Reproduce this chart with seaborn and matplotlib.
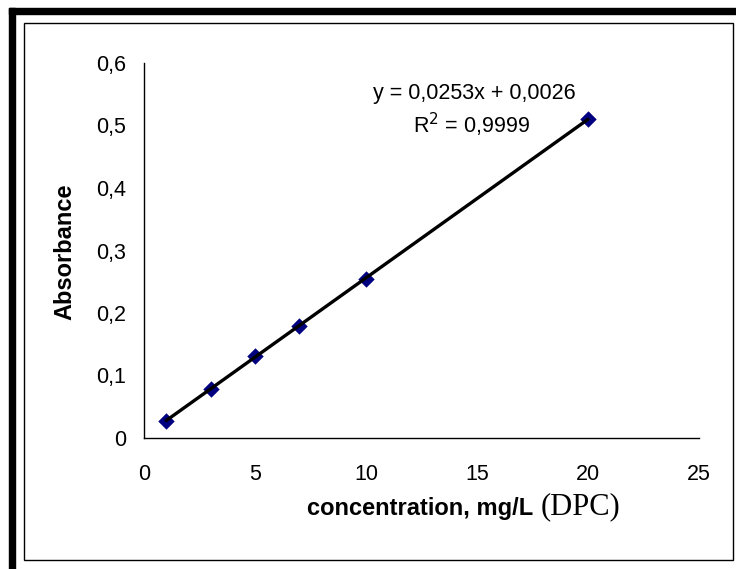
import matplotlib
matplotlib.use("Agg")
import matplotlib.pyplot as plt
import matplotlib.ticker as mticker
from matplotlib.patches import Rectangle
import pandas as pd
import seaborn as sns

# calibration data (DPC method)
concentration = [1, 3, 5, 7, 10, 20]
absorbance = [0.027, 0.078, 0.132, 0.180, 0.255, 0.510]
x_ticks = [0, 5, 10, 15, 20, 25]
y_ticks = [0, 0.1, 0.2, 0.3, 0.4, 0.5, 0.6]
equation = "y = 0,0253x + 0,0026"
r_squared = "R$^2$ = 0,9999"

df = pd.DataFrame({"concentration": concentration, "absorbance": absorbance})

sns.set_style("white")
plt.rcParams["font.family"] = ["Liberation Sans", "DejaVu Sans"]
plt.rcParams["text.color"] = "black"
plt.rcParams["axes.labelcolor"] = "black"

W, H = 736, 569
fig = plt.figure(figsize=(W / 100, H / 100), dpi=100)
ax = fig.add_axes([144 / W, 1 - 438 / H, 555 / W, 375 / H])

sns.regplot(data=df, x="concentration", y="absorbance", ax=ax, ci=None, truncate=True,
            marker="D", scatter_kws={"s": 70, "color": "#000080", "alpha": 1, "linewidths": 0, "zorder": 2},
            line_kws={"color": "black", "lw": 2.4, "zorder": 3})

ax.set_xlim(0, 25)
ax.set_ylim(0, 0.6)
ax.set_xticks(x_ticks)
ax.set_yticks(y_ticks)
ax.yaxis.set_major_formatter(mticker.FuncFormatter(lambda v, p: "0" if v == 0 else f"{v:.1f}".replace(".", ",")))
ax.tick_params(direction="out", length=5, width=1, colors="black", labelsize=15.5)
ax.tick_params(axis="y", pad=8)
ax.tick_params(axis="x", pad=14)
sns.despine(ax=ax)
for s in ["left", "bottom"]:
    ax.spines[s].set_color("black")
    ax.spines[s].set_linewidth(1)

ax.set_xlabel("")
ax.set_ylabel("")
fig.text(65 / W, 1 - 252 / H, "Absorbance", fontsize=17, fontweight="bold",
         rotation=90, ha="center", va="center")
fig.text(420 / W, 1 - 508 / H, "concentration, mg/L", fontsize=17, fontweight="bold",
         ha="center", va="center")
fig.text(580 / W, 1 - 507 / H, "(DPC)", fontsize=22, family="Liberation Serif",
         ha="center", va="center")

fig.text(474 / W, 1 - 93 / H, equation, fontsize=15.5, ha="center", va="center")
fig.text(472 / W, 1 - 125 / H, r_squared, fontsize=15.5, ha="center", va="center")

# frame: thick band top/left and thin inner box
fig.patches.append(Rectangle((9 / W, 1 - 14 / H), 1, 6 / H, transform=fig.transFigure,
                             color="black", zorder=5))
fig.patches.append(Rectangle((9 / W, 0), 6 / W, 1 - 8 / H, transform=fig.transFigure,
                             color="black", zorder=5))
fig.patches.append(Rectangle((24 / W, 1 - 560 / H), 709 / W, 537 / H, transform=fig.transFigure,
                             fill=False, edgecolor="black", lw=1, zorder=5))

fig.savefig("out.png", dpi=100)
